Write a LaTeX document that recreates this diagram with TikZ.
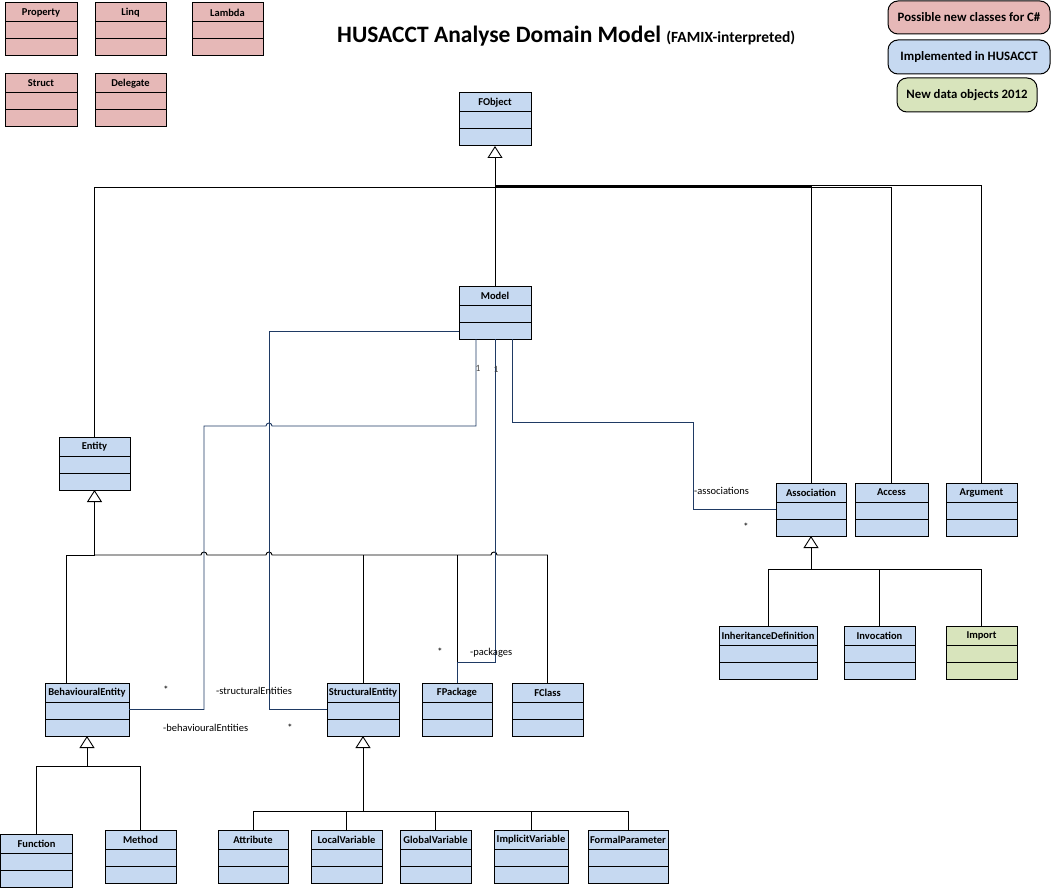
\documentclass[tikz,border=0pt]{standalone}
\usepackage{fontspec}
\setmainfont{Carlito}
\usetikzlibrary{arrows.meta}
\definecolor{pinkc}{HTML}{E6B8B7}
\definecolor{bluec}{HTML}{C6D9F1}
\definecolor{greenc}{HTML}{D8E4BC}
\definecolor{navy}{HTML}{1F3A64}
\tikzset{
  clsbox/.style={draw, line width=1pt, minimum height=53pt, inner sep=0pt, outer sep=0pt},
  clsline/.style={line width=1pt},
  clsname/.style={font=\fontsize{10.5}{12}\selectfont\bfseries, inner sep=0pt},
  conn/.style={draw, line width=0.9pt},
  gen/.style={conn, -{Triangle[length=12pt, width=15pt, fill=white, line width=0.9pt]}},
  assocl/.style={draw=navy, line width=0.9pt},
  lbl/.style={font=\fontsize{10.5}{12}\selectfont, inner sep=0pt},
  legendbox/.style={draw, line width=1pt, rounded corners=10pt, inner sep=0pt,
    font=\fontsize{12.8}{14}\selectfont\bfseries},
}
\newcommand\umlclass[6]{%
  \node[clsbox, fill=#6, minimum width=#4pt, anchor=north west] (#1) at (#2,#3) {};
  \draw[clsline] ([yshift=-19pt]#1.north west) -- ([yshift=-19pt]#1.north east);
  \draw[clsline] ([yshift=-36pt]#1.north west) -- ([yshift=-36pt]#1.north east);
  \node[clsname] (#1-name) at ([yshift=-9.5pt]#1.north) {#5};
}
\begin{document}
\begin{tikzpicture}[x=1pt, y=-1pt]
\path[fill=white, use as bounding box] (0,0) rectangle (1053,888);

% title
\node[anchor=base west, inner sep=0pt] (title) at (337,42.5)
  {\fontsize{23.5}{26}\selectfont\bfseries HUSACCT Analyse Domain Model {\fontsize{15.5}{17}\selectfont(FAMIX-interpreted)}};

% legend
\node[legendbox, fill=pinkc, minimum width=162pt, minimum height=33pt] (leg1) at (969,17.5) {Possible new classes for C\#};
\node[legendbox, fill=bluec, minimum width=162pt, minimum height=34pt] (leg2) at (969,57) {Implemented in HUSACCT};
\node[legendbox, fill=greenc, minimum width=140pt, minimum height=34pt] (leg3) at (967,95) {New data objects 2012};

% classes
\umlclass{property}{5}{3}{72}{Property}{pinkc}
\umlclass{linq}{95}{3}{71}{Linq}{pinkc}
\umlclass{lambda}{192}{3}{71}{Lambda}{pinkc}
\umlclass{struct}{5}{74}{72}{Struct}{pinkc}
\umlclass{delegate}{95}{74}{71}{Delegate}{pinkc}

\umlclass{fobject}{459}{93}{72}{FObject}{bluec}
\umlclass{model}{459}{286}{72}{Model}{bluec}
\umlclass{entity}{59}{437}{71}{Entity}{bluec}
\umlclass{assoc}{776}{483}{70}{Association}{bluec}
\umlclass{access}{855}{483}{73}{Access}{bluec}
\umlclass{argument}{946}{483}{71}{Argument}{bluec}
\umlclass{inh}{719}{626}{98}{InheritanceDefinition}{bluec}
\umlclass{invocation}{844}{626}{71}{Invocation}{bluec}
\umlclass{import}{946}{626}{71}{Import}{greenc}
\umlclass{behav}{45}{683}{84}{BehaviouralEntity}{bluec}
\umlclass{structural}{327}{683}{72}{StructuralEntity}{bluec}
\umlclass{fpackage}{422}{683}{70}{FPackage}{bluec}
\umlclass{fclass}{512}{683}{71}{FClass}{bluec}
\umlclass{function}{0.5}{834}{72}{Function}{bluec}
\umlclass{method}{105}{830}{71}{Method}{bluec}
\umlclass{attribute}{218}{830}{70}{Attribute}{bluec}
\umlclass{localvar}{311}{830}{71}{LocalVariable}{bluec}
\umlclass{globalvar}{400}{830}{71}{GlobalVariable}{bluec}
\umlclass{implicitvar}{494}{830}{74}{ImplicitVariable}{bluec}
\umlclass{formalparam}{588}{830}{80}{FormalParameter}{bluec}

% generalizations to FObject
\draw[gen] (model.north) -- (fobject.south);
\draw[conn] (entity.north) |- (fobject.south |- 0,187.5);
\draw[conn] (assoc.north) |- (fobject.south |- 0,186);
\draw[conn] (access.north) |- (fobject.south |- 0,187);
\draw[conn] (argument.north) |- (fobject.south |- 0,185);

% generalizations to Entity
\draw[gen] ([xshift=-21pt]behav.north) |- (entity.south |- 0,555) -- (entity.south);
\draw[conn] (entity.south |- 0,555) -- (201,555) arc[start angle=180, end angle=0, radius=3pt]
  -- (266,555) arc[start angle=180, end angle=0, radius=3pt]
  -- (491,555) arc[start angle=180, end angle=0, radius=3pt] -| (fclass.north);
\draw[conn] (structural.north) -- (structural.north |- 0,555);
\draw[conn] (fpackage.north) -- (fpackage.north |- 0,555);

% generalizations to BehaviouralEntity
\draw[gen] (function.north) |- (behav.south |- 0,766) -- (behav.south);
\draw[conn] (method.north) |- (behav.south |- 0,766);

% generalizations to StructuralEntity
\draw[gen] (attribute.north) |- (structural.south |- 0,811) -- (structural.south);
\draw[conn] (formalparam.north) |- (structural.south |- 0,811);
\draw[conn] (localvar.north) -- (localvar.north |- 0,811);
\draw[conn] (globalvar.north) -- (globalvar.north |- 0,811);
\draw[conn] (implicitvar.north) -- (implicitvar.north |- 0,811);

% generalizations to Association
\draw[gen] (inh.north) |- (assoc.south |- 0,569) -- (assoc.south);
\draw[conn] (import.north) |- (assoc.south |- 0,569);
\draw[conn] (invocation.north) -- (invocation.north |- 0,569);

% associations from Model
\draw[assocl] ([xshift=-19pt]model.south) |- (272,426) arc[start angle=0, end angle=180, radius=3pt]
  -- (204,426) |- (behav.east);
\draw[assocl] ([yshift=-18.5pt]model.west) -| (structural.west -| 269,0) -- (structural.west);
\draw[assocl] (model.south) -- (model.south |- 0,662) -| (fpackage.north);
\draw[assocl] ([xshift=17pt]model.south) |- (693,422) |- (assoc.west);

% labels
\node[lbl, font=\fontsize{9.5}{11}\selectfont, text=black!75] (m1a) at (478,368) {1};
\node[lbl, font=\fontsize{9.5}{11}\selectfont, text=black!75] (m1b) at (496,369) {1};
\node[lbl] (st1) at (166,690) {*};
\node[lbl] (st2) at (290,728) {*};
\node[lbl] (st3) at (440,652) {*};
\node[lbl] (st4) at (746,527) {*};
\node[lbl, anchor=west] (lse) at (216,691) {-structuralEntities};
\node[lbl, anchor=west] (lbe) at (163,728) {-behaviouralEntities};
\node[lbl, anchor=west] (lpk) at (470,653) {-packages};
\node[lbl, anchor=west] (las) at (694,491) {-associations};
\end{tikzpicture}
\end{document}
